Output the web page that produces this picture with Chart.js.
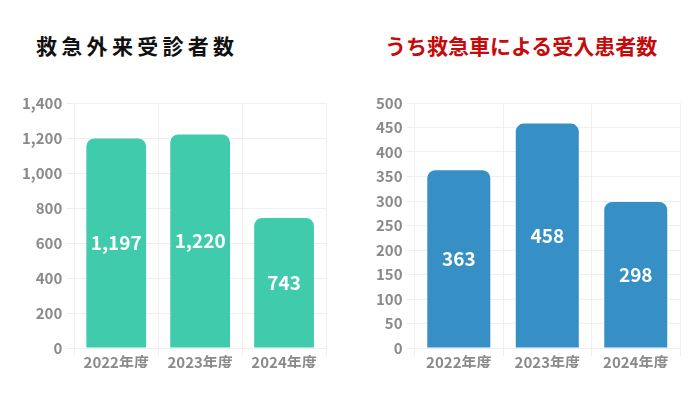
<!DOCTYPE html>
<html>
<head>
<meta charset="utf-8">
<script src="https://cdn.jsdelivr.net/npm/chart.js@4"></script>
<style>
  html, body { margin: 0; padding: 0; background: #fff; }
  body { width: 700px; height: 393px; position: relative; overflow: hidden;
         font-family: "Noto Sans CJK JP", "Noto Sans", sans-serif; }
  .title { position: absolute; top: 30px; font-size: 21px; font-weight: 700; line-height: 30px; white-space: nowrap; }
  #title-left { left: 36px; color: #111; letter-spacing: 4.3px; }
  #title-right { left: 385px; color: #c40a0a; }
  .box { position: absolute; top: 88px; height: 305px; }
  #box-left { left: 0; width: 350px; }
  #box-right { left: 360px; width: 340px; }
</style>
</head>
<body>
<div class="title" id="title-left">救急外来受診者数</div>
<div class="title" id="title-right">うち救急車による受入患者数</div>
<div class="box" id="box-left"><canvas id="chart-left"></canvas></div>
<div class="box" id="box-right"><canvas id="chart-right"></canvas></div>
<script>
// --- Data ---
const years = ['2022年度', '2023年度', '2024年度'];
const outpatients = [1197, 1220, 743];
const ambulancePatients = [363, 458, 298];

// --- Colors ---
const COLORS = {
    teal: '#41cbad',
    blue: '#368fc5',
    grid: '#efefef',
    tick: '#8a8a8a',
};

const FONT = "'Noto Sans CJK JP', 'Noto Sans', sans-serif";

// Draw the value in the middle of each bar
const barValueLabels = {
    id: 'barValueLabels',
    afterDatasetsDraw(chart) {
        const ctx = chart.ctx;
        const meta = chart.getDatasetMeta(0);
        const data = chart.data.datasets[0].data;
        ctx.save();
        ctx.fillStyle = '#fff';
        ctx.font = `700 19px ${FONT}`;
        ctx.textAlign = 'center';
        ctx.textBaseline = 'middle';
        meta.data.forEach((bar, i) => {
            const y = (bar.y + bar.base) / 2;
            ctx.fillText(data[i].toLocaleString('en-US'), bar.x, y);
        });
        ctx.restore();
    }
};

function makeChart(id, values, color, max, step, padding) {
    const ctx = document.getElementById(id).getContext('2d');
    return new Chart(ctx, {
        type: 'bar',
        data: {
            labels: years,
            datasets: [{
                data: values,
                backgroundColor: color,
                borderRadius: 8,
                borderSkipped: 'start',
                categoryPercentage: 0.8,
                barPercentage: 0.89,
            }]
        },
        options: {
            responsive: true,
            maintainAspectRatio: false,
            animation: false,
            layout: { padding },
            plugins: {
                legend: { display: false },
                tooltip: { enabled: false },
            },
            scales: {
                x: {
                    grid: { color: COLORS.grid },
                    border: { color: COLORS.grid },
                    ticks: {
                        color: COLORS.tick,
                        font: { family: FONT, size: 15, weight: '700' },
                        padding: -3,
                    },
                },
                y: {
                    min: 0,
                    max,
                    grid: { color: COLORS.grid },
                    border: { color: COLORS.grid },
                    ticks: {
                        stepSize: step,
                        color: COLORS.tick,
                        font: { family: FONT, size: 15, weight: '700' },
                        padding: 4,
                        callback: v => v.toLocaleString('en-US'),
                    },
                },
            },
        },
        plugins: [barValueLabels],
    });
}

makeChart('chart-left', outpatients, COLORS.teal, 1400, 200, { left: 18, right: 24, top: 15, bottom: 25 });
makeChart('chart-right', ambulancePatients, COLORS.blue, 500, 50, { left: 12, right: 20, top: 15, bottom: 25 });
</script>
</body>
</html>
